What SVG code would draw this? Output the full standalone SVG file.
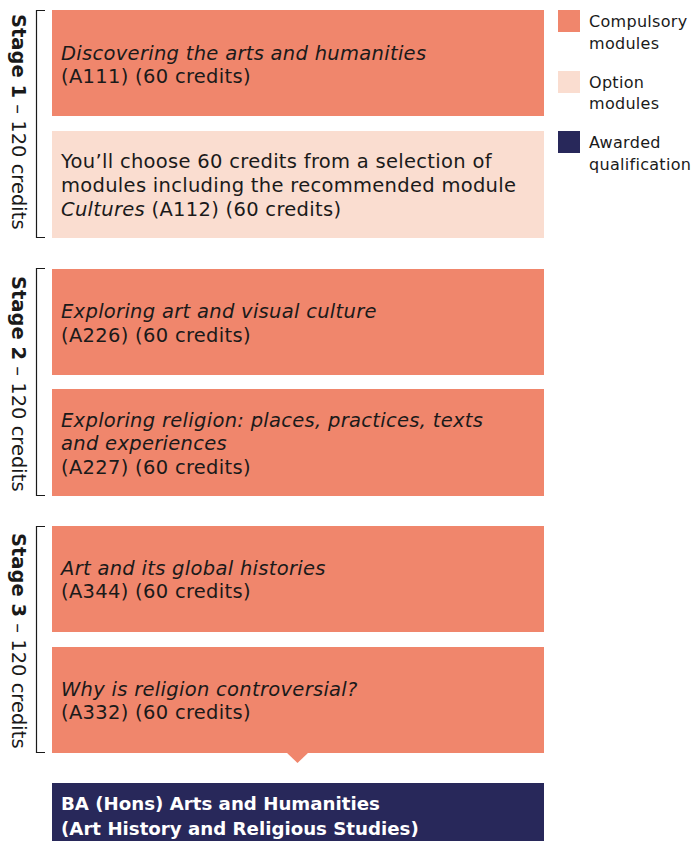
<svg xmlns="http://www.w3.org/2000/svg" width="694" height="841" viewBox="0 0 694 841">
<style>
.comp{fill:#F0866C}
.opt{fill:#FADDD0}
.nav{fill:#28285A}
.t{font-family:"DejaVu Sans","Liberation Sans",sans-serif;font-size:19.5px;letter-spacing:0.3px;fill:#1a1a1a}
.i{font-style:italic}
.w{font-family:"DejaVu Sans","Liberation Sans",sans-serif;font-size:18.2px;font-weight:bold;fill:#ffffff}
.lg{font-family:"DejaVu Sans","Liberation Sans",sans-serif;font-size:16px;letter-spacing:0.3px;fill:#1a1a1a}
.st{font-family:"DejaVu Sans","Liberation Sans",sans-serif;font-size:19.5px;fill:#1a1a1a}
.br{fill:none;stroke:#1a1a1a;stroke-width:1.2}
</style>
<g id="stage1-label">
<path class="br" d="M45,10.5 H36.5 V237.5 H45"/>
<text class="st" transform="translate(12,14) rotate(90)"><tspan font-weight="bold">Stage 1</tspan> – 120 credits</text>
</g>
<g id="stage2-label">
<path class="br" d="M45,268.5 H36.5 V495.5 H45"/>
<text class="st" transform="translate(12,276) rotate(90)"><tspan font-weight="bold">Stage 2</tspan> – 120 credits</text>
</g>
<g id="stage3-label">
<path class="br" d="M45,526.5 H36.5 V752.5 H45"/>
<text class="st" transform="translate(12,533) rotate(90)"><tspan font-weight="bold">Stage 3</tspan> – 120 credits</text>
</g>
<g id="a111">
<rect class="comp" x="52" y="10" width="492" height="106"/>
<text class="t i" x="61" y="60">Discovering the arts and humanities</text>
<text class="t" x="61" y="83">(A111) (60 credits)</text>
</g>
<g id="options">
<rect class="opt" x="52" y="131" width="492" height="107"/>
<text class="t" x="61" y="168">You’ll choose 60 credits from a selection of</text>
<text class="t" x="61" y="192">modules including the recommended module</text>
<text class="t" x="61" y="216"><tspan class="i">Cultures</tspan> (A112) (60 credits)</text>
</g>
<g id="a226">
<rect class="comp" x="52" y="269" width="492" height="106"/>
<text class="t i" x="61" y="318">Exploring art and visual culture</text>
<text class="t" x="61" y="342">(A226) (60 credits)</text>
</g>
<g id="a227">
<rect class="comp" x="52" y="389" width="492" height="107"/>
<text class="t i" x="61" y="427">Exploring religion: places, practices, texts</text>
<text class="t i" x="61" y="450">and experiences</text>
<text class="t" x="61" y="474">(A227) (60 credits)</text>
</g>
<g id="a344">
<rect class="comp" x="52" y="526" width="492" height="106"/>
<text class="t i" x="61" y="575">Art and its global histories</text>
<text class="t" x="61" y="598">(A344) (60 credits)</text>
</g>
<g id="a332">
<rect class="comp" x="52" y="647" width="492" height="106"/>
<text class="t i" x="61" y="696">Why is religion controversial?</text>
<text class="t" x="61" y="719">(A332) (60 credits)</text>
</g>
<g id="connectors">
<path class="comp" d="M286,752 H309 L297.5,763 Z"/>
</g>
<g id="award">
<rect class="nav" x="52" y="783" width="492" height="58"/>
<text class="w" x="61" y="810">BA (Hons) Arts and Humanities</text>
<text class="w" x="61" y="835">(Art History and Religious Studies)</text>
</g>
<g id="legend">
<rect class="comp" x="558" y="10" width="22" height="22"/>
<text class="lg" x="589" y="27">Compulsory</text>
<text class="lg" x="589" y="49">modules</text>
<rect class="opt" x="558" y="71" width="22" height="22"/>
<text class="lg" x="589" y="88">Option</text>
<text class="lg" x="589" y="109">modules</text>
<rect class="nav" x="558" y="131" width="22" height="22"/>
<text class="lg" x="589" y="148">Awarded</text>
<text class="lg" x="589" y="170">qualification</text>
</g>
</svg>
